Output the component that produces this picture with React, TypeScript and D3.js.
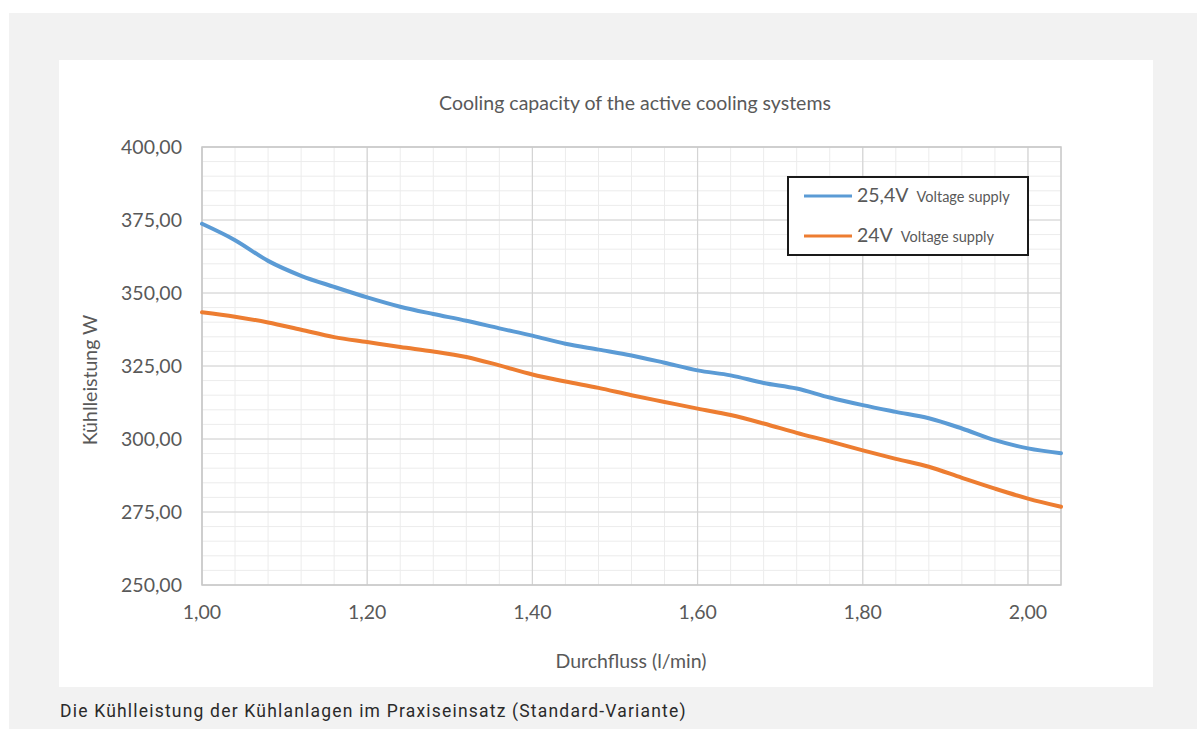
import React, { useRef, useEffect } from 'react';
import * as d3 from 'd3';

// Flow rate (l/min), sampled every 0.04
const flowRates = [
  1.0, 1.04, 1.08, 1.12, 1.16, 1.2, 1.24, 1.28, 1.32, 1.36, 1.4, 1.44, 1.48, 1.52,
  1.56, 1.6, 1.64, 1.68, 1.72, 1.76, 1.8, 1.84, 1.88, 1.92, 1.96, 2.0, 2.04,
];

// Cooling capacity (W) at 25,4V supply
const capacity254V = [
  373.7, 368.1, 361.0, 355.9, 352.1, 348.5, 345.3, 342.8, 340.5, 337.9, 335.4, 332.6, 330.6, 328.6,
  326.1, 323.5, 321.8, 319.2, 317.3, 314.2, 311.6, 309.3, 307.1, 303.6, 299.6, 296.8, 295.1,
];

// Cooling capacity (W) at 24V supply
const capacity24V = [
  343.4, 341.9, 339.9, 337.4, 334.9, 333.2, 331.5, 330.0, 328.1, 325.2, 322.1, 319.7, 317.5, 315.0,
  312.7, 310.4, 308.2, 305.3, 302.1, 299.2, 296.1, 293.2, 290.5, 286.7, 283.0, 279.6, 276.8,
];

const xTicks = [1.0, 1.2, 1.4, 1.6, 1.8, 2.0];
const yTicks = [250, 275, 300, 325, 350, 375, 400];

const series = [
  { label: '25,4V', sub: 'Voltage supply', values: capacity254V, color: '#5b9bd5' },
  { label: '24V', sub: 'Voltage supply', values: capacity24V, color: '#ed7d31' },
];

const W = 1197;
const H = 729;
const plot = { left: 202, right: 1061, top: 147, bottom: 585 };
const textFont = 'Lato, sans-serif';
const textColor = '#595959';
const fmt = (v: number, d: number) => v.toFixed(d).replace('.', ',');

export default function App(): React.ReactElement {
  const svgRef = useRef<SVGSVGElement>(null);

  useEffect(() => {
    if (!svgRef.current) return;
    const svg = d3.select(svgRef.current);
    svg.selectAll('*').remove();

    // Page background and chart panel
    svg.append('rect').attr('x', 9).attr('y', 13).attr('width', W - 9).attr('height', H - 13).attr('fill', '#f2f2f2');
    svg.append('rect').attr('x', 59).attr('y', 60).attr('width', 1094).attr('height', 627).attr('fill', '#ffffff');

    const x = d3.scaleLinear().domain([1.0, 2.04]).range([plot.left, plot.right]);
    const y = d3.scaleLinear().domain([250, 400]).range([plot.bottom, plot.top]);

    // Minor gridlines
    const grid = svg.append('g');
    grid.selectAll('line.vminor')
      .data(d3.range(1.0, 2.04 + 1e-6, 0.04))
      .enter().append('line')
      .attr('x1', (d) => x(d)).attr('x2', (d) => x(d))
      .attr('y1', plot.top).attr('y2', plot.bottom)
      .attr('stroke', '#ececec').attr('stroke-width', 1);
    grid.selectAll('line.hminor')
      .data(d3.range(250, 400 + 1e-6, 5))
      .enter().append('line')
      .attr('x1', plot.left).attr('x2', plot.right)
      .attr('y1', (d) => y(d)).attr('y2', (d) => y(d))
      .attr('stroke', '#ececec').attr('stroke-width', 1);

    // Major gridlines
    grid.selectAll('line.vmajor')
      .data(xTicks)
      .enter().append('line')
      .attr('x1', (d) => x(d)).attr('x2', (d) => x(d))
      .attr('y1', plot.top).attr('y2', plot.bottom)
      .attr('stroke', '#d4d4d4').attr('stroke-width', 1.2);
    grid.selectAll('line.hmajor')
      .data(yTicks)
      .enter().append('line')
      .attr('x1', plot.left).attr('x2', plot.right)
      .attr('y1', (d) => y(d)).attr('y2', (d) => y(d))
      .attr('stroke', '#d4d4d4').attr('stroke-width', 1.2);

    // Plot frame
    svg.append('rect')
      .attr('x', plot.left).attr('y', plot.top)
      .attr('width', plot.right - plot.left).attr('height', plot.bottom - plot.top)
      .attr('fill', 'none').attr('stroke', '#c8c8c8').attr('stroke-width', 1.5);

    // Tick labels
    svg.append('g').selectAll('text')
      .data(yTicks)
      .enter().append('text')
      .attr('x', 182).attr('y', (d) => y(d))
      .attr('dy', '0.35em')
      .attr('text-anchor', 'end')
      .attr('font-family', textFont).attr('font-size', 19.5)
      .attr('fill', textColor)
      .text((d) => fmt(d, 2));

    svg.append('g').selectAll('text')
      .data(xTicks)
      .enter().append('text')
      .attr('x', (d) => x(d)).attr('y', 619)
      .attr('text-anchor', 'middle')
      .attr('font-family', textFont).attr('font-size', 19.5)
      .attr('fill', textColor)
      .text((d) => fmt(d, 2));

    // Lines
    const line = d3.line<number>()
      .x((_, i) => x(flowRates[i]))
      .y((d) => y(d))
      .curve(d3.curveCatmullRom.alpha(0.5));

    series.forEach((s) => {
      svg.append('path')
        .datum(s.values)
        .attr('d', line)
        .attr('fill', 'none')
        .attr('stroke', s.color)
        .attr('stroke-width', 4)
        .attr('stroke-linecap', 'round');
    });

    // Titles
    svg.append('text')
      .attr('x', 635).attr('y', 110)
      .attr('text-anchor', 'middle')
      .attr('font-family', textFont).attr('font-size', 19.5)
      .attr('fill', textColor)
      .text('Cooling capacity of the active cooling systems');

    svg.append('text')
      .attr('x', 631).attr('y', 668)
      .attr('text-anchor', 'middle')
      .attr('font-family', textFont).attr('font-size', 19.5)
      .attr('fill', textColor)
      .text('Durchfluss (l/min)');

    svg.append('text')
      .attr('transform', 'translate(97,380) rotate(-90)')
      .attr('text-anchor', 'middle')
      .attr('font-family', textFont).attr('font-size', 19.5)
      .attr('fill', textColor)
      .text('Kühlleistung W');

    // Legend
    const legend = svg.append('g').attr('transform', 'translate(788,177)');
    legend.append('rect')
      .attr('width', 240).attr('height', 78)
      .attr('fill', '#ffffff').attr('stroke', '#1a1a1a').attr('stroke-width', 2);
    series.forEach((s, i) => {
      const row = legend.append('g').attr('transform', `translate(0, ${19 + i * 40})`);
      row.append('line')
        .attr('x1', 16).attr('x2', 64)
        .attr('y1', 0).attr('y2', 0)
        .attr('stroke', s.color).attr('stroke-width', 3);
      const t = row.append('text')
        .attr('x', 69).attr('y', 0).attr('dy', '0.35em')
        .attr('font-family', textFont).attr('fill', textColor);
      t.append('tspan').attr('font-size', 19.5).text(s.label);
      t.append('tspan').attr('font-size', 14.5).attr('dx', 8).text(s.sub);
    });

    // Caption below the panel
    svg.append('text')
      .attr('x', 60).attr('y', 717)
      .attr('font-family', 'Roboto, sans-serif').attr('font-size', 17.5)
      .attr('letter-spacing', 1.2)
      .attr('fill', '#2a2a2a')
      .text('Die Kühlleistung der Kühlanlagen im Praxiseinsatz (Standard-Variante)');
  }, []);

  return (
    <div style={{ position: 'absolute', left: 0, top: 0 }}>
      <svg ref={svgRef} width={W} height={H} style={{ display: 'block' }} />
    </div>
  );
}
